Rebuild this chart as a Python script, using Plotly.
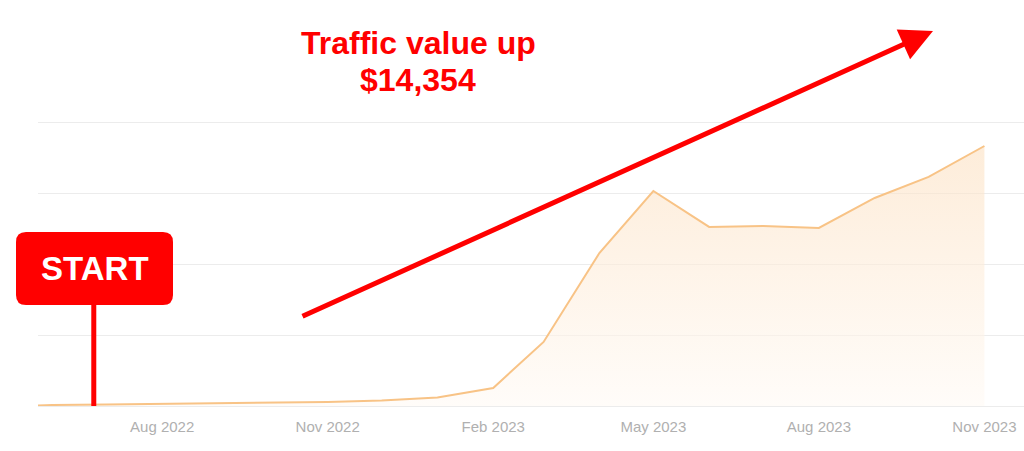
import plotly.graph_objects as go

# ---- data ----
dates = ["2022-05-24", "2022-06-01", "2022-07-01", "2022-08-01", "2022-09-01",
         "2022-10-01", "2022-11-01", "2022-12-01", "2023-01-01", "2023-02-01",
         "2023-03-01", "2023-04-01", "2023-05-01", "2023-06-01", "2023-07-01",
         "2023-08-01", "2023-09-01", "2023-10-01", "2023-11-01"]
traffic_value = [35, 70, 105, 140, 190, 230, 280, 390, 600, 1270,
                 4510, 10770, 15140, 12610, 12680, 12540, 14650, 16130, 18310]
tick_dates = ["2022-08-01", "2022-11-01", "2023-02-01", "2023-05-01", "2023-08-01", "2023-11-01"]
tick_labels = ["Aug 2022", "Nov 2022", "Feb 2023", "May 2023", "Aug 2023", "Nov 2023"]
grid_vals = [0, 5000, 10000, 15000, 20000]
start_date = "2022-06-24"
headline_1 = "Traffic value up"
headline_2 = "$14,354"

W, H = 1024, 451
ML, MR, MT, MB = 38, 0, 110, 45
PW, PH = W - ML - MR, H - MT - MB
FONT = "Arial, Liberation Sans"


def paper(px, py):
    return (px - ML) / PW, (H - MB - py) / PH


fig = go.Figure()
fig.add_trace(go.Scatter(
    x=dates, y=traffic_value, mode="lines",
    line=dict(color="#f8c386", width=2),
    fill="tozeroy",
    fillgradient=dict(type="vertical", start=0, stop=20000,
                      colorscale=[[0, "rgba(255,250,245,0.6)"],
                                  [1, "rgba(252,222,188,0.6)"]]),
    hoverinfo="skip", showlegend=False,
))

# START sign: stem + rounded box
bx0, by0 = paper(16, 232)
bx1, by1 = paper(173, 305)
rx, ry = 10 / PW, 10 / PH
path = (f"M{bx0+rx},{by0} L{bx1-rx},{by0} Q{bx1},{by0} {bx1},{by0-ry} "
        f"L{bx1},{by1+ry} Q{bx1},{by1} {bx1-rx},{by1} L{bx0+rx},{by1} "
        f"Q{bx0},{by1} {bx0},{by1+ry} L{bx0},{by0-ry} Q{bx0},{by0} {bx0+rx},{by0} Z")
fig.add_shape(type="line", xref="x", yref="paper", x0=start_date, x1=start_date,
              y0=0, y1=by1, line=dict(color="#ff0000", width=5), layer="above")
fig.add_shape(type="path", xref="paper", yref="paper", path=path,
              fillcolor="#ff0000", line=dict(width=0), layer="above")
sx, sy = paper(94.5, 268.5)
fig.add_annotation(xref="paper", yref="paper", x=sx, y=sy, text="<b>START</b>",
                   showarrow=False, font=dict(family=FONT, size=33, color="white"),
                   xanchor="center", yanchor="middle")

# headline (two lines)
for text, cy in ((headline_1, 43), (headline_2, 80)):
    tx, ty = paper(418, cy)
    fig.add_annotation(xref="paper", yref="paper", x=tx, y=ty, text=f"<b>{text}</b>",
                       showarrow=False, font=dict(family=FONT, size=32, color="#ff0000"),
                       xanchor="center", yanchor="middle", align="center")

# red arrow
hx, hy = paper(933, 31)
fig.add_annotation(xref="paper", yref="paper", x=hx, y=hy, text="",
                   showarrow=True, ax=301 - 933, ay=317 - 31,
                   arrowhead=2, arrowsize=1.3, arrowwidth=5, arrowcolor="#ff0000")

fig.update_layout(
    width=W, height=H,
    margin=dict(l=ML, r=MR, t=MT, b=MB),
    paper_bgcolor="white", plot_bgcolor="white",
    xaxis=dict(type="date", range=["2022-05-24", "2023-11-23"],
               tickvals=tick_dates, ticktext=tick_labels,
               showgrid=False, zeroline=False, showline=False, ticks="",
               ticklabelstandoff=10,
               tickfont=dict(family=FONT, size=15, color="#b0b0b0")),
    yaxis=dict(range=[0, 20845], tickvals=grid_vals, showticklabels=False,
               showgrid=True, gridcolor="#ececec", gridwidth=1,
               zeroline=True, zerolinecolor="#ececec", zerolinewidth=1),
)

fig.write_html("out.html")
